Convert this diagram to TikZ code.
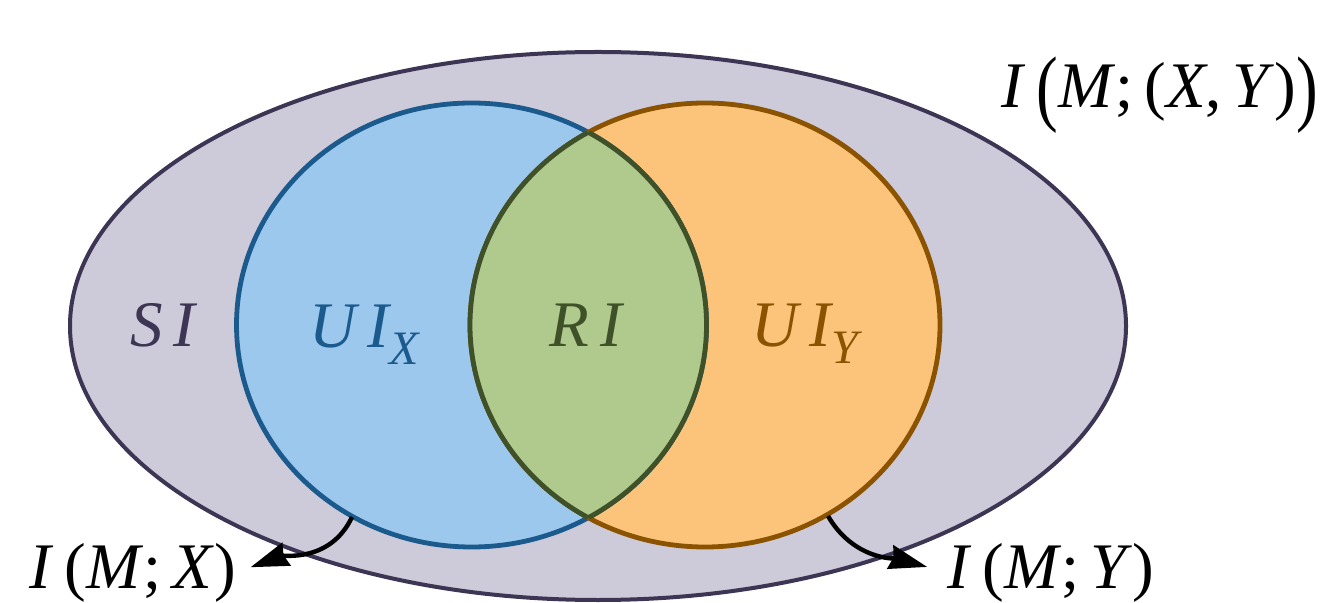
\documentclass[tikz,border=0pt]{standalone}
\usepackage{fontspec}
\usepackage{graphicx}
\setmainfont{Liberation Serif}
\usetikzlibrary{arrows.meta}
\definecolor{outerfill}{HTML}{CDCAD9}
\definecolor{outerdraw}{HTML}{3C3553}
\definecolor{bluefill}{HTML}{9DC8EE}
\definecolor{bluedraw}{HTML}{1B5A8C}
\definecolor{orangefill}{HTML}{FBC47A}
\definecolor{orangedraw}{HTML}{8B5300}
\definecolor{greenfill}{HTML}{B0C98D}
\definecolor{greendraw}{HTML}{3F5128}
\newcommand{\subsc}[1]{\raisebox{-0.26em}{\fontsize{24}{26}\selectfont\itshape #1}}
\newcommand{\bigpar}[1]{\raisebox{-0.12em}{\scalebox{1}[1.3]{#1}}}
\tikzset{
  lbl/.style={inner sep=0pt, anchor=base, font=\fontsize{32.5}{38}\selectfont},
  conn/.style={line width=2.2pt, black, -{Stealth[length=19pt,width=12pt,inset=1.5pt]}},
}
\begin{document}
\begin{tikzpicture}[x=0.5pt,y=-0.5pt]
\useasboundingbox (0,0) rectangle (1326,603);
% outer ellipse
\filldraw[fill=outerfill, draw=outerdraw, line width=2pt] (598,326) ellipse [x radius=264pt, y radius=137pt];
% circles
\fill[bluefill] (471.5,325) ellipse [x radius=117.5pt, y radius=111pt];
\fill[orangefill] (705,325) ellipse [x radius=117.5pt, y radius=111pt];
\draw[bluedraw, line width=2.4pt] (471.5,325) ellipse [x radius=117.5pt, y radius=111pt];
\draw[orangedraw, line width=2.4pt] (705,325) ellipse [x radius=117.5pt, y radius=111pt];
\begin{scope}
  \clip (471.5,325) ellipse [x radius=117.5pt, y radius=111pt];
  \fill[greenfill] (705,325) ellipse [x radius=117.5pt, y radius=111pt];
  \draw[greendraw, line width=2.4pt] (705,325) ellipse [x radius=117.5pt, y radius=111pt];
\end{scope}
\begin{scope}
  \clip (705,325) ellipse [x radius=117.5pt, y radius=111pt];
  \draw[greendraw, line width=2.4pt] (471.5,325) ellipse [x radius=117.5pt, y radius=111pt];
\end{scope}
% region labels
\node[lbl, text=outerdraw] (si) at (163,347) {\itshape S\,I};
\node[lbl, text=bluedraw] (uix) at (364,348) {\itshape U\,I\subsc{X}};
\node[lbl, text=greendraw] (ri) at (586,347) {\itshape R\,I};
\node[lbl, text=orangedraw] (uiy) at (805,347) {\itshape U\,I\subsc{Y}};
% outer labels
\node[lbl] (mxy) at (1160,108) {\textit{I}\,\bigpar{(}\textit{M};\,(\textit{X},\,\textit{Y})\bigpar{)}};
\node[lbl] (mx) at (133,588) {\textit{I}\,(\textit{M};\,\textit{X})};
\node[lbl] (my) at (1051,588) {\textit{I}\,(\textit{M};\,\textit{Y})};
% connectors
\coordinate (ax) at (352,517);
\coordinate (ay) at (828,516);
\draw[conn, shorten >=7.5pt] (ax) to[out=-115, in=20] (mx.east);
\draw[conn, shorten >=10.5pt] (ay) to[out=-60, in=165] (my.west);
\end{tikzpicture}
\end{document}
